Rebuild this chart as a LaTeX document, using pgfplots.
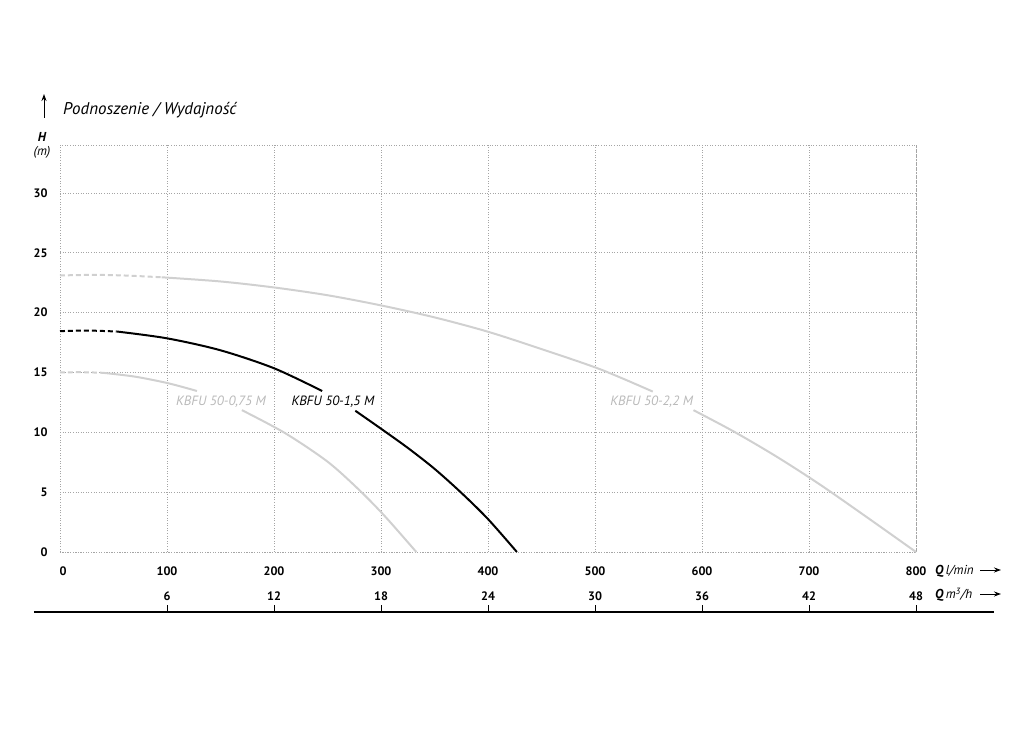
\documentclass[border=0pt]{standalone}
\usepackage{fontspec}
\setmainfont{PT Sans}
\usepackage{pgfplots}
\pgfplotsset{compat=1.18}
\usetikzlibrary{arrows.meta}
\definecolor{lgray}{RGB}{208,208,208}
\definecolor{lblgray}{RGB}{185,185,185}
\definecolor{gridgray}{RGB}{165,165,165}
\begin{document}
\begin{tikzpicture}
\path[use as bounding box] (-60bp,-179bp) rectangle (964bp,552bp);
\begin{axis}[
  scale only axis, width=856bp, height=407bp,
  xmin=0, xmax=800, ymin=0, ymax=34,
  xtick={0,100,...,800}, ytick={0,5,...,30},
  xticklabels={\hspace*{6bp}0,100,200,300,400,500,600,700,800},
  grid=major,
  major grid style={gridgray, line width=0.6pt, dash pattern=on 0.8pt off 1.8pt},
  axis line style={gridgray, line width=0.6pt, dash pattern=on 0.8pt off 1.8pt},
  major tick length=0pt,
  /pgf/number format/assume math mode=true,
  ticklabel style={font=\bfseries\fontsize{12.3}{13}\selectfont},
  xticklabel style={anchor=base, yshift=-23.5bp},
  yticklabel style={anchor=east, xshift=-9bp},
  clip=false,
]
% KBFU 50-2,2 M
\addplot[lgray, line width=2pt, dash pattern=on 5pt off 3pt, smooth] coordinates {(0,23.1) (30,23.15) (60,23.1) (95,22.95)};
\addplot[lgray, line width=2pt, smooth] coordinates {(95,22.95) (150,22.6) (200,22.1) (250,21.45) (300,20.6) (350,19.6) (400,18.4) (450,16.95) (505,15.26) (554,13.4)};
\addplot[lgray, line width=2pt, smooth] coordinates {(592,11.85) (630,10.05) (670,7.95) (710,5.65) (755,2.85) (800,0)};
% KBFU 50-1,5 M
\addplot[black, line width=2pt, dash pattern=on 5pt off 3pt, smooth] coordinates {(0,18.45) (25,18.5) (53,18.42)};
\addplot[black, line width=2pt, smooth] coordinates {(53,18.42) (100,17.85) (150,16.85) (200,15.35) (245,13.45)};
\addplot[black, line width=2pt, smooth] coordinates {(276,11.8) (300,10.3) (325,8.7) (350,6.95) (375,4.95) (400,2.75) (427,0)};
% KBFU 50-0,75 M
\addplot[lgray, line width=2pt, dash pattern=on 5pt off 3pt, smooth] coordinates {(0,15.0) (20,15.02) (40,14.97)};
\addplot[lgray, line width=2pt, smooth] coordinates {(40,14.97) (70,14.65) (101,14.1) (128,13.45)};
\addplot[lgray, line width=2pt, smooth] coordinates {(170,11.85) (210,9.95) (250,7.55) (280,5.15) (304,2.95) (333,0)};
% labels
\node[lblgray, font=\itshape\fontsize{13.5}{14}\selectfont] at (axis cs:150.5,12.53) {KBFU 50-0,75 M};
\node[black, font=\itshape\fontsize{13.5}{14}\selectfont] at (axis cs:255,12.53) {KBFU 50-1,5 M};
\node[lblgray, font=\itshape\fontsize{13.5}{14}\selectfont] at (axis cs:553,12.53) {KBFU 50-2,2 M};
\end{axis}
% title
\draw[black, line width=1pt, -{Stealth[length=7bp,width=5bp]}] (-16bp,434bp) -- (-16bp,458bp);
\node[anchor=base west, inner sep=0pt, font=\itshape\fontsize{17}{18}\selectfont] at (3bp,437bp) {Podnoszenie / Wydajność};
\node[font=\bfseries\itshape\fontsize{13}{14}\selectfont, inner sep=0pt] at (-18bp,415bp) {H};
\node[font=\itshape\fontsize{13}{14}\selectfont, inner sep=0pt] at (-18bp,400bp) {(m)};
% unit labels
\node[anchor=west, inner sep=0pt, font=\fontsize{13}{14}\selectfont] at (875bp,-19bp) {\textbf{\textit{Q}}\,\textit{l/min}};
\draw[black, line width=1pt, -{Stealth[length=7bp,width=5bp]}] (920bp,-18bp) -- (941bp,-18bp);
% second row
\foreach \i/\l in {1/6,2/12,3/18,4/24,5/30,6/36,7/42,8/48} {
  \node[anchor=base, font=\bfseries\fontsize{12.3}{13}\selectfont] at (\i*107bp,-48.5bp) {\l};
  \draw[black, line width=1pt] (\i*107bp,-60bp) -- (\i*107bp,-53bp);
}
\node[anchor=west, inner sep=0pt, font=\fontsize{13}{14}\selectfont] at (875bp,-43bp) {\textbf{\textit{Q}}\,\textit{m\textsuperscript{3}/h}};
\draw[black, line width=1pt, -{Stealth[length=7bp,width=5bp]}] (920bp,-42bp) -- (941bp,-42bp);
\draw[black, line width=1.2pt] (-26bp,-60bp) -- (934bp,-60bp);
\end{tikzpicture}
\end{document}
